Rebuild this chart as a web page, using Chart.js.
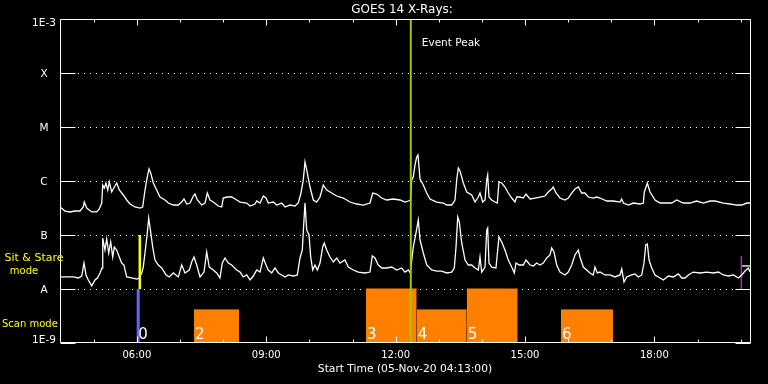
<!DOCTYPE html>
<html><head><meta charset="utf-8">
<script src="https://cdn.jsdelivr.net/npm/chart.js@4/dist/chart.umd.min.js"></script>
<style>html,body{margin:0;padding:0;background:#000;overflow:hidden}#wrap{width:768px;height:384px}</style>
</head><body><div id="wrap"><canvas id="c" width="768" height="384"></canvas></div>
<script>
const chartTitle = 'GOES 14 X-Rays:';
const xAxisTitle = 'Start Time (05-Nov-20 04:13:00)';
const startHour = 4.2167, endHour = 20.2167;
const yTickValues = [1e-9, 1e-8, 1e-7, 1e-6, 1e-5, 1e-4, 1e-3];
const yTickLabels = ['1E-9', 'A', 'B', 'C', 'M', 'X', '1E-3'];
const xMajorTicks = [6, 9, 12, 15, 18];
const xMajorLabels = ['06:00', '09:00', '12:00', '15:00', '18:00'];
const xMinorTicks = [5, 6, 7, 8, 9, 10, 11, 12, 13, 14, 15, 16, 17, 18, 19, 20];

// GOES long channel (1-8 A), hours UT and W/m^2
const longTimes = [4.217,4.333,4.449,4.565,4.680,4.757,4.780,4.836,4.952,5.068,
5.128,5.184,5.207,5.244,5.283,5.323,5.360,5.415,5.476,5.531,
5.592,5.684,5.763,5.840,5.956,6.072,6.134,6.188,6.241,6.281,
6.320,6.380,6.459,6.536,6.652,6.728,6.844,6.960,7.039,7.092,
7.155,7.231,7.308,7.347,7.401,7.503,7.579,7.633,7.695,7.771,
7.887,7.966,8.003,8.082,8.198,8.314,8.391,8.546,8.623,8.739,
8.778,8.855,8.931,8.994,9.047,9.163,9.242,9.358,9.434,9.550,
9.666,9.742,9.805,9.858,9.898,9.937,10.014,10.090,10.169,10.246,
10.322,10.401,10.517,10.633,10.786,10.941,11.097,11.250,11.405,11.468,
11.560,11.676,11.792,11.945,12.101,12.217,12.293,12.344,12.372,12.409,
12.449,12.488,12.518,12.565,12.641,12.720,12.796,12.952,13.105,13.184,
13.300,13.376,13.416,13.453,13.492,13.569,13.648,13.764,13.840,13.917,
13.956,14.018,14.072,14.111,14.134,14.164,14.227,14.303,14.357,14.396,
14.459,14.535,14.612,14.691,14.767,14.807,14.883,14.960,15.022,15.115,
15.231,15.347,15.463,15.539,15.618,15.655,15.718,15.810,15.926,16.003,
16.082,16.158,16.235,16.314,16.390,16.467,16.583,16.662,16.738,16.894,
17.047,17.202,17.242,17.279,17.395,17.511,17.666,17.743,17.766,17.806,
17.836,17.898,18.014,18.130,18.285,18.401,18.517,18.670,18.826,18.981,
19.134,19.290,19.406,19.599,19.754,19.909,20.025,20.141,20.217];
const longFlux = [3.30e-7,2.78e-7,2.67e-7,2.78e-7,2.78e-7,3.30e-7,4.08e-7,3.16e-7,2.67e-7,2.67e-7,
3.03e-7,3.91e-7,8.43e-7,7.42e-7,9.18e-7,6.81e-7,9.58e-7,6.26e-7,7.74e-7,9.18e-7,
6.81e-7,5.51e-7,4.45e-7,3.75e-7,3.30e-7,3.16e-7,3.30e-7,6.81e-7,1.19e-6,1.67e-6,
1.41e-6,9.18e-7,6.81e-7,5.05e-7,4.45e-7,3.91e-7,3.59e-7,3.59e-7,4.08e-7,4.64e-7,
3.75e-7,3.91e-7,5.27e-7,5.74e-7,4.45e-7,3.59e-7,3.91e-7,5.99e-7,4.45e-7,4.08e-7,
3.44e-7,3.30e-7,4.84e-7,5.05e-7,5.05e-7,4.45e-7,4.08e-7,3.91e-7,3.44e-7,3.75e-7,
4.26e-7,3.91e-7,5.27e-7,4.84e-7,3.91e-7,4.08e-7,3.59e-7,3.91e-7,3.30e-7,3.59e-7,
3.44e-7,3.91e-7,5.99e-7,1.05e-6,2.25e-6,1.60e-6,7.74e-7,4.45e-7,4.08e-7,5.05e-7,
8.43e-7,6.81e-7,5.99e-7,5.27e-7,4.84e-7,4.08e-7,3.75e-7,3.59e-7,3.91e-7,5.99e-7,
5.74e-7,4.84e-7,4.45e-7,4.64e-7,4.45e-7,4.08e-7,4.26e-7,4.45e-7,1.05e-6,1.19e-6,
1.98e-6,2.78e-6,3.03e-6,1.09e-6,8.43e-7,5.99e-7,4.64e-7,4.08e-7,3.91e-7,3.59e-7,
3.59e-7,4.45e-7,1.05e-6,1.74e-6,1.53e-6,9.18e-7,6.26e-7,5.51e-7,4.08e-7,5.05e-7,
5.99e-7,4.08e-7,4.45e-7,1.05e-6,1.29e-6,5.05e-7,4.45e-7,4.08e-7,3.91e-7,9.58e-7,
9.18e-7,7.74e-7,5.99e-7,4.84e-7,4.08e-7,5.05e-7,5.05e-7,4.84e-7,5.74e-7,4.64e-7,
4.84e-7,5.05e-7,5.27e-7,6.26e-7,7.11e-7,7.74e-7,5.99e-7,4.84e-7,4.45e-7,4.84e-7,
5.99e-7,7.11e-7,7.74e-7,5.99e-7,5.99e-7,5.05e-7,4.84e-7,5.05e-7,4.84e-7,4.26e-7,
4.26e-7,4.08e-7,4.64e-7,3.91e-7,3.59e-7,3.91e-7,3.75e-7,3.91e-7,6.26e-7,7.74e-7,
9.18e-7,6.26e-7,4.45e-7,3.91e-7,3.91e-7,3.91e-7,4.45e-7,3.91e-7,3.91e-7,4.26e-7,
3.91e-7,4.26e-7,4.26e-7,3.91e-7,3.75e-7,3.59e-7,3.59e-7,3.91e-7,3.91e-7];

// GOES short channel (0.5-4 A)
const shortTimes = [4.217,4.372,4.525,4.641,4.720,4.773,4.820,4.873,4.952,5.028,
5.082,5.144,5.191,5.207,5.260,5.300,5.346,5.392,5.439,5.476,
5.531,5.592,5.647,5.700,5.763,5.879,5.995,6.055,6.111,6.148,
6.195,6.241,6.273,6.303,6.366,6.420,6.496,6.575,6.675,6.751,
6.844,6.960,7.039,7.115,7.215,7.271,7.324,7.387,7.463,7.556,
7.618,7.678,7.771,7.850,7.926,7.980,8.043,8.119,8.198,8.314,
8.391,8.467,8.546,8.623,8.699,8.778,8.855,8.931,8.994,9.047,
9.126,9.202,9.279,9.358,9.434,9.511,9.627,9.720,9.782,9.835,
9.858,9.898,9.937,9.991,10.030,10.077,10.130,10.183,10.246,10.308,
10.345,10.401,10.478,10.554,10.633,10.709,10.825,10.902,11.018,11.134,
11.289,11.405,11.458,11.520,11.597,11.676,11.792,11.908,12.024,12.140,
12.217,12.293,12.340,12.409,12.472,12.525,12.565,12.641,12.720,12.836,
12.952,13.068,13.184,13.300,13.360,13.400,13.439,13.476,13.532,13.609,
13.685,13.764,13.840,13.917,13.956,13.995,14.072,14.111,14.134,14.164,
14.227,14.326,14.366,14.396,14.459,14.535,14.612,14.691,14.751,14.791,
14.867,14.960,15.022,15.115,15.192,15.271,15.347,15.424,15.503,15.579,
15.618,15.672,15.734,15.810,15.926,16.003,16.082,16.158,16.235,16.274,
16.351,16.430,16.506,16.583,16.622,16.676,16.738,16.854,16.970,17.086,
17.202,17.242,17.295,17.357,17.473,17.550,17.627,17.706,17.759,17.799,
17.836,17.876,17.938,18.014,18.091,18.207,18.323,18.439,18.555,18.634,
18.710,18.787,18.903,19.058,19.213,19.366,19.482,19.599,19.715,19.831,
19.947,20.025,20.101,20.178,20.217];
const shortFlux = [1.67e-8,1.67e-8,1.67e-8,1.60e-8,1.74e-8,3.03e-8,1.82e-8,1.47e-8,1.14e-8,1.47e-8,
1.60e-8,1.98e-8,2.45e-8,8.80e-8,5.27e-8,8.43e-8,4.64e-8,7.42e-8,3.91e-8,5.99e-8,
5.27e-8,3.91e-8,3.03e-8,2.78e-8,1.67e-8,1.60e-8,1.53e-8,1.60e-8,1.98e-8,2.55e-8,
5.27e-8,1.09e-7,2.06e-7,1.41e-7,5.99e-8,3.44e-8,2.78e-8,2.45e-8,1.82e-8,1.67e-8,
1.98e-8,1.67e-8,2.78e-8,1.98e-8,2.25e-8,3.16e-8,3.91e-8,2.78e-8,1.67e-8,2.06e-8,
4.84e-8,2.55e-8,2.25e-8,1.98e-8,1.60e-8,3.03e-8,3.75e-8,3.03e-8,2.78e-8,2.25e-8,
2.06e-8,1.67e-8,1.82e-8,1.47e-8,1.74e-8,2.25e-8,2.06e-8,3.75e-8,2.78e-8,2.25e-8,
1.98e-8,2.45e-8,1.98e-8,1.82e-8,1.67e-8,1.82e-8,1.74e-8,1.82e-8,3.75e-8,5.27e-8,
1.14e-7,3.91e-7,1.24e-7,1.00e-7,3.91e-8,2.25e-8,2.78e-8,2.25e-8,3.03e-8,5.99e-8,
7.11e-8,5.27e-8,3.91e-8,3.16e-8,3.75e-8,3.03e-8,3.44e-8,2.55e-8,2.25e-8,2.06e-8,
1.98e-8,2.06e-8,4.08e-8,3.75e-8,2.78e-8,2.45e-8,2.45e-8,2.55e-8,2.25e-8,2.45e-8,
2.06e-8,2.25e-8,1.98e-8,5.99e-8,1.09e-7,1.90e-7,8.08e-8,4.64e-8,2.78e-8,2.25e-8,
2.15e-8,2.15e-8,1.98e-8,2.06e-8,2.45e-8,5.99e-8,2.15e-7,1.74e-7,7.11e-8,3.44e-8,
2.78e-8,2.78e-8,2.45e-8,2.25e-8,3.91e-8,2.06e-8,2.55e-8,1.24e-7,1.35e-7,3.03e-8,
2.55e-8,2.45e-8,5.27e-8,9.18e-8,7.42e-8,5.27e-8,3.44e-8,2.55e-8,1.98e-8,3.03e-8,
2.78e-8,2.78e-8,3.44e-8,2.78e-8,2.67e-8,3.03e-8,2.78e-8,3.03e-8,3.75e-8,4.26e-8,
5.74e-8,4.84e-8,2.78e-8,2.06e-8,1.82e-8,2.06e-8,2.78e-8,4.26e-8,5.27e-8,3.91e-8,
2.55e-8,2.25e-8,1.98e-8,1.82e-8,2.55e-8,1.98e-8,2.06e-8,1.82e-8,1.82e-8,1.67e-8,
1.82e-8,2.35e-8,1.35e-8,1.67e-8,1.82e-8,1.90e-8,1.67e-8,1.82e-8,3.03e-8,6.53e-8,
6.81e-8,3.44e-8,2.45e-8,1.82e-8,1.67e-8,1.47e-8,1.74e-8,1.67e-8,1.90e-8,1.60e-8,
1.60e-8,1.82e-8,2.06e-8,1.98e-8,2.06e-8,1.98e-8,2.06e-8,1.82e-8,1.74e-8,1.82e-8,
1.60e-8,1.82e-8,2.15e-8,2.45e-8,2.06e-8];

// Scan-mode blocks (hours) and their levels
const scanStart = [7.324, 11.312, 12.488, 13.648, 15.834];
const scanEnd   = [8.367, 12.488, 13.648, 14.830, 17.040];
const scanLevel = [4.1e-9, 1e-8, 4.1e-9, 1e-8, 4.1e-9];
const scanLabels = ['2', '3', '4', '5', '6'];
// Mode 0 marker and sit & stare marker
const modeZeroTime = 6.030, modeZeroLevel = 1e-8, modeZeroLabel = '0';
const stareTime = 6.067, stareLow = 1e-8, stareHigh = 1e-7;
// Event peak
const peakTime = 12.351, peakLabel = 'Event Peak';
// Marker at right edge
const markTime = 20.015, markLow = 1e-8, markHigh = 4.1e-8;
const markBarLevel = 2.67e-8;

const pts = (xs, ys) => xs.map((x, i) => ({x: x, y: ys[i]}));
const vline = (t, lo, hi) => [{x: t, y: lo}, {x: t, y: hi}];
const base = {pointRadius: 0, pointHoverRadius: 0, tension: 0, fill: false};

const datasets = [
  Object.assign({}, base, {label: peakLabel, data: vline(peakTime, 1e-9, 1e-3), borderColor: '#99cc00', borderWidth: 2}),
  Object.assign({}, base, {label: 'Long', data: pts(longTimes, longFlux), borderColor: '#ffffff', borderWidth: 1.3}),
  Object.assign({}, base, {label: 'Short', data: pts(shortTimes, shortFlux), borderColor: '#ffffff', borderWidth: 1.3}),
  Object.assign({}, base, {label: 'Sit & Stare', data: vline(stareTime, stareLow, stareHigh), borderColor: '#ffff00', borderWidth: 2.5}),
  Object.assign({}, base, {label: 'Mode 0', data: vline(modeZeroTime, 1e-9, modeZeroLevel), borderColor: '#6464ff', borderWidth: 3}),
  Object.assign({}, base, {label: 'Mark', data: vline(markTime, markLow, markHigh), borderColor: '#cc22cc', borderWidth: 1.3}),
  Object.assign({}, base, {label: 'Mark bar', data: [{x: markTime, y: markBarLevel}, {x: endHour, y: markBarLevel}], borderColor: '#ffffff', borderWidth: 1.3})
];
scanStart.forEach((s, i) => {
  datasets.push(Object.assign({}, base, {
    label: 'Scan ' + scanLabels[i],
    data: [{x: s, y: scanLevel[i]}, {x: scanEnd[i], y: scanLevel[i]}],
    borderColor: '#ff8000', borderWidth: 1, backgroundColor: '#ff8000', fill: 'start'
  }));
});

const FONT = '"DejaVu Sans", "Liberation Sans", sans-serif';
const gfx = {
  id: 'gfx',
  beforeDraw(chart) {
    const c = chart.ctx; c.save(); c.fillStyle = '#000'; c.fillRect(0, 0, chart.width, chart.height); c.restore();
  },
  beforeDatasetsDraw(chart) {
    const c = chart.ctx, a = chart.chartArea, y = chart.scales.y;
    c.save(); c.strokeStyle = '#ffffff'; c.lineWidth = 1; c.setLineDash([1, 5]);
    yTickValues.forEach(v => {
      if (v === yTickValues[0] || v === yTickValues[yTickValues.length - 1]) return;
      const py = Math.round(y.getPixelForValue(v)) + 0.5;
      c.beginPath(); c.moveTo(a.left + 18, py); c.lineTo(a.right - 14, py); c.stroke();
    });
    c.restore();
  },
  afterDatasetsDraw(chart) {
    const c = chart.ctx, a = chart.chartArea, x = chart.scales.x, y = chart.scales.y;
    c.save(); c.strokeStyle = '#ffffff'; c.lineWidth = 1; c.setLineDash([]);
    const L = a.left + 0.5, R = a.right + 0.5, T = a.top + 0.5, B = a.bottom - 0.5;
    c.beginPath(); c.moveTo(L, T); c.lineTo(R, T); c.lineTo(R, B); c.lineTo(L, B); c.closePath(); c.stroke();
    c.beginPath();
    yTickValues.forEach(v => {
      const py = Math.round(y.getPixelForValue(v)) + 0.5;
      c.moveTo(L, py); c.lineTo(L + 15, py);
      c.moveTo(R, py); c.lineTo(R - 15, py);
    });
    xMinorTicks.forEach(h => {
      const px = Math.round(x.getPixelForValue(h)) + 0.5;
      const len = xMajorTicks.indexOf(h) >= 0 ? 6 : 3;
      c.moveTo(px, B); c.lineTo(px, B - len);
      c.moveTo(px, T); c.lineTo(px, T + len);
    });
    c.stroke();
    c.restore();
  },
  afterDraw(chart) {
    const c = chart.ctx, a = chart.chartArea, x = chart.scales.x, y = chart.scales.y;
    c.save();
    c.textBaseline = 'middle';
    c.fillStyle = '#ffffff';
    c.font = '12px ' + FONT; c.textAlign = 'center';
    c.fillText(chartTitle, 402, 10);
    c.font = '10.5px ' + FONT;
    yTickValues.forEach((v, i) => {
      let py = y.getPixelForValue(v) + 1.5;
      py = Math.max(a.top + 4, Math.min(a.bottom - 3, py));
      c.fillText(yTickLabels[i], 44, py);
    });
    c.font = '10px ' + FONT;
    xMajorTicks.forEach((h, i) => c.fillText(xMajorLabels[i], x.getPixelForValue(h), 355));
    c.font = '10.7px ' + FONT;
    c.fillText(xAxisTitle, (a.left + a.right) / 2, 369);
    c.textAlign = 'left'; c.font = '10.5px ' + FONT;
    c.fillText(peakLabel, x.getPixelForValue(peakTime) + 11, 43);
    c.fillStyle = '#ffff00';
    c.font = '11px ' + FONT; c.textAlign = 'center';
    c.fillText('Sit & Stare', 34, 258);
    c.font = '10px ' + FONT;
    c.fillText('mode', 24, 271);
    c.textAlign = 'left';
    c.fillText('Scan mode', 2, 324);
    c.fillStyle = '#ffffff'; c.font = '15px ' + FONT; c.textBaseline = 'alphabetic';
    c.fillText(modeZeroLabel, x.getPixelForValue(modeZeroTime), a.bottom - 4);
    scanStart.forEach((s, i) => c.fillText(scanLabels[i], x.getPixelForValue(s) + 1, a.bottom - 4));
    c.restore();
  }
};

new Chart(document.getElementById('c'), {
  type: 'line',
  data: {datasets: datasets},
  options: {
    responsive: false, animation: false, devicePixelRatio: 1,
    layout: {padding: {left: 60, top: 19, right: 18, bottom: 41}},
    scales: {
      x: {type: 'linear', min: startHour, max: endHour, display: false},
      y: {type: 'logarithmic', min: 1e-9, max: 1e-3, display: false}
    },
    plugins: {legend: {display: false}, tooltip: {enabled: false}, title: {display: false}},
    events: []
  },
  plugins: [gfx]
});
</script>
</body></html>
